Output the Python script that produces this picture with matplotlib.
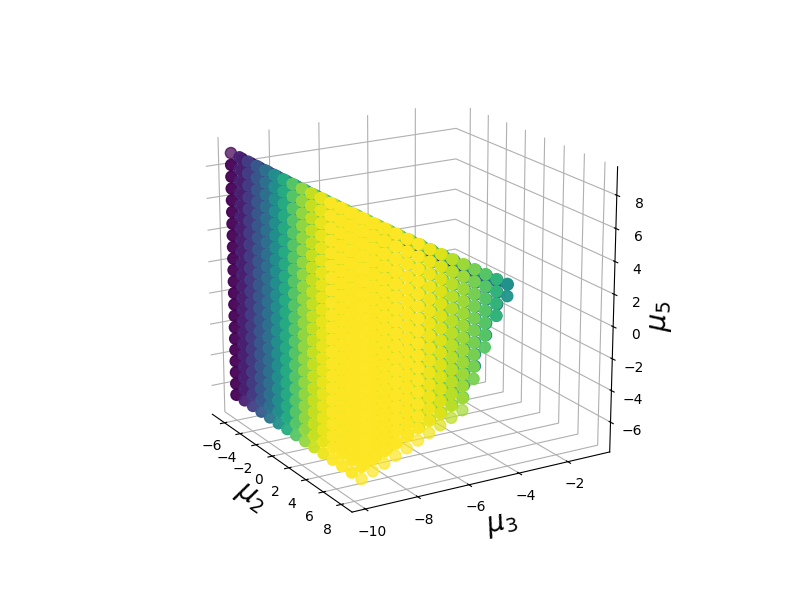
import matplotlib
matplotlib.use('Agg')
import matplotlib.pyplot as plt
import numpy as np

# lattice
mu2_levels = [-6.0, -4.94, -3.89, -2.83, -1.77, -0.71, 0.34, 1.4, 2.46, 3.51, 4.57, 5.63, 6.69, 7.74, 8.8]
mu3_levels = [-10.0, -9.57, -9.14, -8.71, -8.28, -7.85, -7.42, -6.99, -6.56, -6.13, -5.7,
              -5.27, -4.84, -4.41, -3.98, -3.55, -3.12, -2.69, -2.26, -1.83, -1.4]
top_mu5 = [9.1, 8.69, 8.27, 7.86, 7.44, 7.03, 6.61, 6.2, 5.78, 5.37, 4.95,
           4.54, 4.12, 3.71, 3.29, 2.88, 2.46, 2.05, 1.63, 1.22, 0.8]
low_mu5 = [-6.4, -6.07, -5.74, -5.41, -5.08, -4.75, -4.42, -4.09, -3.76, -3.43, -1.83,
           -0.23, 1.37, 2.97]
# how much lower the top of a mu2 row falls per mu3 column
row_drop = [0.058, 0.056, 0.054, 0.05, 0.048, 0.045, 0.04, 0.036, 0.032, 0.024, 0.02, 0.016, 0.008, 0.004, 0.0]
# how many mu3 columns the floor of a mu2 row lags behind the last row
row_shift = [11, 10, 10, 9, 8, 7, 7, 6, 5, 4, 4, 3, 2, 1, 0]

# colour of each mu2 row going along mu3 (0..1 on viridis)
shade = [
    [0.0] * 21,
    [0.09, 0.03] + [0.0] * 19,
    [0.18, 0.12, 0.06] + [0.0] * 17,
    [0.28, 0.22, 0.16, 0.1, 0.04] + [0.0] * 15,
    [0.38, 0.32, 0.26, 0.2, 0.14, 0.08] + [0.0] * 13,
    [0.5, 0.44, 0.38, 0.32, 0.26, 0.2, 0.14, 0.08] + [0.0] * 11,
    [0.62, 0.56, 0.5, 0.44, 0.38, 0.32, 0.26, 0.2, 0.14] + [0.0] * 9,
    [0.74, 0.68, 0.62, 0.56, 0.5, 0.44, 0.38, 0.32, 0.26, 0.2, 0.14] + [0.0] * 7,
    [0.84, 0.78, 0.72, 0.66, 0.6, 0.54, 0.48, 0.42, 0.36, 0.3, 0.24, 0.18] + [0.0] * 5,
    [0.92, 0.87, 0.82, 0.76, 0.7, 0.64, 0.58, 0.52, 0.46, 0.4, 0.34, 0.28, 0.22, 0.16] + [0.0] * 3,
    [0.97, 0.94, 0.9, 0.85, 0.8, 0.75, 0.7, 0.64, 0.58, 0.52, 0.46, 0.4, 0.34, 0.28, 0.22, 0.16],
    [1.0, 0.98, 0.95, 0.91, 0.87, 0.83, 0.78, 0.72, 0.66, 0.6, 0.54, 0.48, 0.42, 0.36, 0.3, 0.24],
    [1.0, 1.0, 1.0, 0.96, 0.92, 0.88, 0.84, 0.78, 0.72, 0.66, 0.58, 0.5, 0.42, 0.34, 0.24],
    [1.0, 1.0, 1.0, 1.0, 1.0, 0.98, 0.94, 0.9, 0.86, 0.8, 0.74, 0.66, 0.56, 0.46, 0.33],
    [1.0, 1.0, 1.0, 1.0, 1.0, 1.0, 0.98, 0.95, 0.9, 0.86, 0.8, 0.74, 0.66, 0.52],
]
mu5_step = 0.73

xs, ys, zs, cs, al = [], [], [], [], []
for j, (m2, row) in enumerate(zip(mu2_levels, shade)):
    for i, c in enumerate(row):
        top = top_mu5[i] - row_drop[j] * i
        z = top
        floor = low_mu5[max(0, i - row_shift[j])]
        # dark back rows only show along the top edge, keep a thin layer there
        if j < 12 and i >= 6:
            floor = max(floor, top)
        while z >= floor:
            xs.append(m2)
            ys.append(mu3_levels[i])
            zs.append(z)
            cs.append(c)
            # the lone edge points read paler than the packed middle
            lone = (j == 14 and z - mu5_step < floor and i < 10) or (j == 0 and i == 0 and z == top)
            al.append(0.72 if lone else 0.95)
            z -= mu5_step

colors = plt.get_cmap('viridis')(np.array(cs))
colors[:, 3] = al

fig = plt.figure(figsize=(8, 6))
ax = fig.add_subplot(projection='3d')
ax.set_position([0.1137, 0.1125, 0.775, 0.77])
ax.set_box_aspect((4, 4, 4), zoom=1.075)
ax.scatter(xs, ys, zs, c=colors, s=64, depthshade=False)
ax.view_init(elev=18.5, azim=-30.6)
ax.set_xlim(-7.6, 9.2)
ax.set_ylim(-10.5, -0.25)
ax.set_zlim(-7.9, 9.7)
ax.set_xticks([-6, -4, -2, 0, 2, 4, 6, 8])
ax.set_yticks([-10, -8, -6, -4, -2])
ax.set_zticks([-6, -4, -2, 0, 2, 4, 6, 8])
ax.tick_params(axis='x', pad=1)
ax.tick_params(axis='y', pad=-1)
ax.tick_params(axis='z', pad=1)
ax.set_xlabel(r'$\mu_2$', fontsize=20, labelpad=-2)
ax.set_ylabel(r'$\mu_3$', fontsize=20, labelpad=-2)
ax.set_zlabel(r'$\mu_5$', fontsize=20, labelpad=-2)
for axis in (ax.xaxis, ax.yaxis, ax.zaxis):
    axis.set_pane_color((1, 1, 1, 0))
fig.savefig('out.png', dpi=100)
